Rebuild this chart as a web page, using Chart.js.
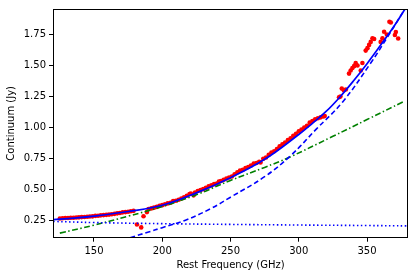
<!DOCTYPE html>
<html>
<head>
<meta charset="utf-8">
<script src="https://cdn.jsdelivr.net/npm/chart.js@4/dist/chart.umd.min.js"></script>
<style>
html,body{margin:0;padding:0;background:#fff;}
#wrap{width:416px;height:278px;position:relative;}
</style>
</head>
<body>
<div id="wrap"><canvas id="c" width="416" height="278"></canvas></div>
<script>
// Observed continuum (red points)
const obsFreq = [125,127,129,131,133,135,137,139,141,143,145,147,149,151,153,155,157,159,161,163,165,167,169,171,173,175,177,179,181.5,184.6,186.3,188.8,190,192,194,196,198,200,202,204,206,208,210,212,214,216,218,220,221,223,224,226,228,230,232,234,236,238,240,241.5,243,245,247,249,251,253,255,257,259,261,263,265,267,269,271,272,274,276,278,280,282,284,286,288,290,292,294,296,298,300,302,304,306,308,310,312,314,316,318,319,329.5,330.5,331.5,333,334.5,336.8,338,339.3,340.5,341.7,343,345.4,346.6,349,350.3,351.5,352.7,354,355.2,360,361.3,362.5,364.5,366.4,367.4,370.4,371.1,372.8];
const obsFlux = [0.268,0.27,0.272,0.273,0.275,0.274,0.277,0.278,0.28,0.281,0.283,0.285,0.286,0.29,0.291,0.294,0.296,0.298,0.30,0.303,0.306,0.31,0.313,0.318,0.32,0.323,0.327,0.33,0.22,0.197,0.287,0.32,0.345,0.35,0.356,0.362,0.37,0.376,0.383,0.39,0.395,0.41,0.412,0.42,0.43,0.44,0.452,0.465,0.47,0.455,0.478,0.49,0.497,0.505,0.515,0.527,0.535,0.545,0.55,0.565,0.57,0.58,0.59,0.598,0.607,0.625,0.64,0.655,0.66,0.675,0.683,0.695,0.71,0.715,0.725,0.72,0.75,0.76,0.782,0.80,0.81,0.828,0.85,0.865,0.88,0.90,0.915,0.934,0.95,0.97,0.985,1.0,1.015,1.04,1.053,1.067,1.075,1.083,1.09,1.094,1.245,1.25,1.315,1.30,1.307,1.435,1.46,1.48,1.495,1.519,1.50,1.46,1.52,1.62,1.64,1.666,1.69,1.72,1.714,1.69,1.72,1.772,1.75,1.852,1.846,1.746,1.77,1.718];

// Total model (solid blue)
const totFreq = [120,135,150,175,200,225,250,275,300,310,320,330,340,350,360,370,377.8];
const totFlux = [0.26,0.272,0.288,0.325,0.375,0.475,0.597,0.745,0.945,1.035,1.13,1.245,1.375,1.515,1.665,1.82,1.955];

// Dust component (dashed blue)
const dustFreq = [176.5,190,200,217,235,250,275,294,313,332,352.7,365,378];
const dustFlux = [0.114,0.16,0.195,0.255,0.345,0.44,0.605,0.774,0.99,1.205,1.52,1.73,1.96];

// Free-free component (dotted blue)
const ffFreq = [120,150,200,250,300,350,380];
const ffFlux = [0.245,0.236,0.227,0.221,0.216,0.212,0.209];

// Power-law fit (green dash-dot)
const plFreq = [125,150,175,200,225,250,275,292.8,325,350,376.8];
const plFlux = [0.151,0.215,0.287,0.365,0.46,0.575,0.68,0.76,0.93,1.065,1.21];

const xTicks = [150,200,250,300,350];
const yTicks = [0.25,0.50,0.75,1.00,1.25,1.50,1.75];

const pts = (xs, ys) => xs.map((x,i)=>({x:x, y:ys[i]}));
const FONT = {family:'"DejaVu Sans", sans-serif', size:10};

const framePlugin = {
  id:'frame',
  afterDraw(chart){
    const a = chart.chartArea, ctx = chart.ctx;
    ctx.save();
    ctx.strokeStyle = '#000';
    ctx.lineWidth = 1;
    ctx.strokeRect(Math.round(a.left)+0.5, Math.round(a.top)+0.5, Math.round(a.right-a.left)-1, Math.round(a.bottom-a.top)-1);
    ctx.restore();
  }
};

const lineDs = (data, color, dash, width) => ({
  type:'line', data, borderColor:color, backgroundColor:color, borderWidth:width,
  borderDash:dash, pointRadius:0, fill:false, showLine:true, tension:0.4
});

new Chart(document.getElementById('c'), {
  type:'scatter',
  data:{
    datasets:[
      lineDs(pts(totFreq,totFlux), '#0000ff', [], 1.7),
      lineDs(pts(dustFreq,dustFlux), '#0000ff', [5,3], 1.6),
      lineDs(pts(ffFreq,ffFlux), '#0000ff', [1.5,2.5], 1.6),
      lineDs(pts(plFreq,plFlux), '#008000', [6,2.5,1.5,2.5], 1.6),
      {type:'scatter', data:pts(obsFreq,obsFlux), backgroundColor:'#ff0000', borderWidth:0, pointRadius:2.3, pointHoverRadius:2.3}
    ]
  },
  options:{
    responsive:false, animation:false, events:[],
    layout:{padding:{left:0,right:8,top:7,bottom:0}},
    plugins:{legend:{display:false}, tooltip:{enabled:false}},
    scales:{
      x:{
        type:'linear', min:120, max:380,
        afterBuildTicks:(s)=>{ s.ticks = xTicks.map(v=>({value:v})); },
        afterFit:(s)=>{ s.height = 40.3; },
        border:{display:false},
        grid:{display:true, drawOnChartArea:false, drawTicks:true, tickLength:4, color:'#000', tickColor:'#000'},
        ticks:{color:'#000', font:FONT, padding:4, maxRotation:0, autoSkip:false, callback:(v)=>String(v)},
        title:{display:true, text:'Rest Frequency (GHz)', color:'#000', font:FONT, padding:{top:2,bottom:7}}
      },
      y:{
        type:'linear', min:0.114, max:1.955,
        afterBuildTicks:(s)=>{ s.ticks = yTicks.map(v=>({value:v})); },
        afterFit:(s)=>{ s.width = 53; },
        border:{display:false},
        grid:{display:true, drawOnChartArea:false, drawTicks:true, tickLength:4, color:'#000', tickColor:'#000'},
        ticks:{color:'#000', font:FONT, padding:3, autoSkip:false, callback:(v)=>Number(v).toFixed(2)},
        title:{display:true, text:'Continuum (Jy)', color:'#000', font:FONT, padding:{top:5,bottom:0}}
      }
    }
  },
  plugins:[framePlugin]
});
</script>
</body>
</html>
